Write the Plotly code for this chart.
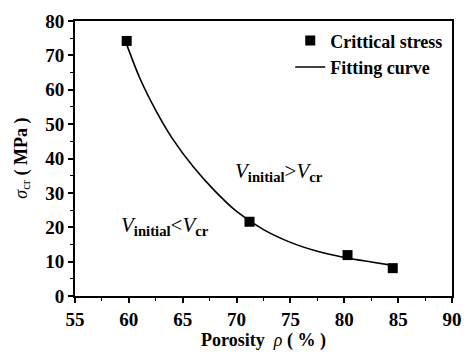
import plotly.graph_objects as go

# measured critical stress
porosity = [59.8, 71.2, 80.3, 84.5]
stress = [74.2, 21.6, 11.9, 8.1]

# fitting curve
fit_x = [59.7, 61.0, 62.5, 64.0, 66.0, 68.0, 70.0, 72.5, 75.0, 77.5, 80.0, 82.5, 84.5]
fit_y = [74.0, 63.5, 54.0, 46.0, 37.5, 30.5, 24.6, 19.3, 15.6, 13.0, 11.2, 9.9, 8.9]

x_ticks = [55, 60, 65, 70, 75, 80, 85, 90]
y_ticks = [0, 10, 20, 30, 40, 50, 60, 70, 80]

FONT = "Liberation Serif"

fig = go.Figure()
fig.add_trace(go.Scatter(
    x=porosity, y=stress, mode="markers", name="Crittical stress",
    marker=dict(symbol="square", size=10, color="black"),
))
fig.add_trace(go.Scatter(
    x=fit_x, y=fit_y, mode="lines", name="Fitting curve",
    line=dict(color="black", width=1.6, shape="spline", smoothing=0.8),
))

axis_common = dict(
    showline=True, linecolor="black", linewidth=2, mirror=True,
    ticks="outside", ticklen=5, tickwidth=1.5, tickcolor="black",
    showgrid=False, zeroline=False,
    tickfont=dict(family=FONT, size=19, color="black", weight="bold"),
    minor=dict(ticks="outside", ticklen=3, tickwidth=1.2, tickcolor="black"),
)

fig.update_xaxes(
    range=[55, 90], tickvals=x_ticks, ticktext=["<b>%d</b>" % v for v in x_ticks],
    title=dict(text="<b>Porosity</b>  <i>ρ</i> <b>( % )</b>", font=dict(family=FONT, size=18, color="black"), standoff=2),
    minor_dtick=2.5,
    **axis_common,
)
fig.update_yaxes(
    range=[0, 80], tickvals=y_ticks, ticktext=["<b>%d</b>" % v for v in y_ticks],
    minor_dtick=5,
    **axis_common,
)

# y axis title as annotation for precise placement
fig.add_annotation(xref="paper", yref="paper", x=-0.14, y=0.5, xanchor="center", yanchor="middle",
                   text="<i>σ</i><sub>cr</sub> <b>( MPa )</b>", textangle=-90, showarrow=False,
                   font=dict(family=FONT, size=18, color="black"))

fig.add_annotation(x=73.9, y=36, text="<i>V</i><sub><b>initial</b></sub>&gt;<i>V</i><sub><b>cr</b></sub>",
                   showarrow=False, font=dict(family=FONT, size=21, color="black"))
fig.add_annotation(x=63.4, y=20.4, text="<i>V</i><sub><b>initial</b></sub>&lt;<i>V</i><sub><b>cr</b></sub>",
                   showarrow=False, font=dict(family=FONT, size=21, color="black"))

fig.update_layout(
    width=473, height=355,
    margin=dict(l=75, r=11, t=14, b=55),
    paper_bgcolor="white", plot_bgcolor="white",
    font=dict(family=FONT, color="black"),
    legend=dict(x=0.99, y=0.995, xanchor="right", yanchor="top",
                bgcolor="rgba(0,0,0,0)",
                font=dict(family=FONT, size=18, color="black", weight="bold"),
                tracegroupgap=0, itemwidth=30),
    showlegend=True,
)

fig.write_html("out.html")
